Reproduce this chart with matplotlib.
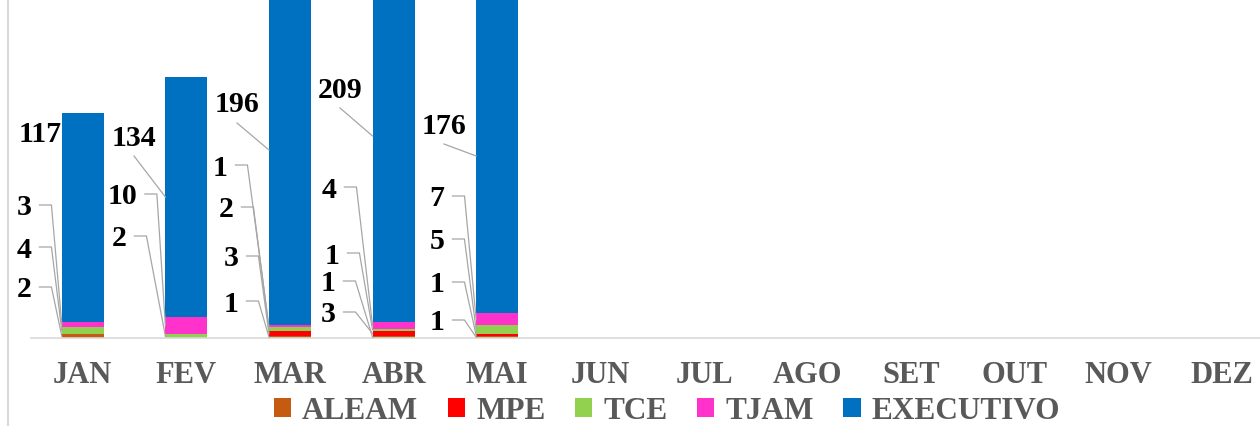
import numpy as np
import matplotlib.pyplot as plt
from matplotlib.lines import Line2D
from matplotlib.transforms import IdentityTransform

plt.rcParams['font.family'] = ['Liberation Serif', 'DejaVu Serif']

# Data
months = ['JAN', 'FEV', 'MAR', 'ABR', 'MAI', 'JUN', 'JUL', 'AGO', 'SET', 'OUT', 'NOV', 'DEZ']
series = ['ALEAM', 'MPE', 'TCE', 'TJAM', 'EXECUTIVO']
aleam = [2, 0, 1, 1, 1]
mpe = [0, 0, 3, 3, 1]
tce = [4, 2, 2, 1, 5]
tjam = [3, 10, 1, 4, 7]
executivo = [117, 134, 196, 209, 176]
colors = ['#C55A11', '#FF0000', '#92D050', '#FF33CC', '#0070C0']

# where the data labels sit (image pixels, y from top): month -> series -> (x, y)
label_pos = {
    0: {0: (24, 288), 2: (24, 248), 3: (24, 206), 4: (40, 133)},
    1: {2: (119, 237), 3: (122, 195), 4: (134, 136)},
    2: {0: (231, 302), 1: (231, 257), 2: (226, 208), 3: (220, 166), 4: (237, 103)},
    3: {1: (328, 313), 0: (328, 282), 2: (332, 254), 3: (329, 188), 4: (340, 88)},
    4: {0: (437, 321), 1: (437, 283), 2: (437, 240), 3: (437, 197), 4: (444, 124)},
}
exec_leader_end = {1: 198, 2: 151, 3: 137, 4: 157}

W, H = 1260, 427
fig = plt.figure(figsize=(W / 100, H / 100), dpi=100)
ax = fig.add_axes([31 / W, 88 / H, 1243 / W, 339 / H])

data = [aleam, mpe, tce, tjam, executivo]
x = np.arange(len(months))
n = len(executivo)
bw = 0.405
bottoms = []
bottom = np.zeros(n)
for vals, name, c in zip(data, series, colors):
    ax.bar(x[:n], vals, bw, bottom=bottom, color=c, label=name)
    bottoms.append(bottom.copy())
    bottom = bottom + np.array(vals)

ax.set_xlim(-0.5, 11.5)
ax.set_ylim(0, 189.7)
ax.set_yticks([])
ax.set_xticks(x, months)
ax.tick_params(axis='x', length=0, pad=16, labelsize=22, labelcolor='#595959')
for t in ax.get_xticklabels():
    t.set_fontweight('bold')
for s in ['left', 'top', 'right']:
    ax.spines[s].set_visible(False)
ax.spines['bottom'].set_color('#D9D9D9')
ax.spines['bottom'].set_linewidth(1.2)

# data labels with leader lines
fig.canvas.draw()
renderer = fig.canvas.get_renderer()
lc = '#A6A6A6'
for m, labels in label_pos.items():
    for si, (px, py) in labels.items():
        val = data[si][m]
        t = fig.text(px / W, 1 - (py + 2) / H, str(val), ha='center', va='center',
                     fontsize=21.5, fontweight='bold', color='black')
        bb = t.get_window_extent(renderer)
        bar_left = ax.transData.transform((x[m] - bw / 2, 0))[0]
        if si == 4:
            if m not in exec_leader_end:
                continue
            xs = [px, bar_left]
            ys = [H - py - 21, H - exec_leader_end[m]]
        else:
            ymid = ax.transData.transform((0, bottoms[si][m] + val / 2))[1]
            x0 = bb.x1 + 8
            xs = [x0, x0 + 12, bar_left]
            ys = [H - py, H - py, ymid]
        fig.add_artist(Line2D(xs, ys, transform=IdentityTransform(), color=lc, lw=0.9))

# chart border on the left
fig.add_artist(Line2D([8, 8], [0, H], transform=IdentityTransform(), color='#D9D9D9', lw=1.5))

fig.legend(loc='center', bbox_to_anchor=(667 / W, 1 - 412 / H), ncol=5, frameon=False,
           prop=dict(family='Liberation Serif', weight='bold', size=22.5), labelcolor='#595959',
           handlelength=0.55, handleheight=0.6, handletextpad=0.35, columnspacing=0.95,
           borderpad=0.1)

fig.savefig('out.png', dpi=100)
